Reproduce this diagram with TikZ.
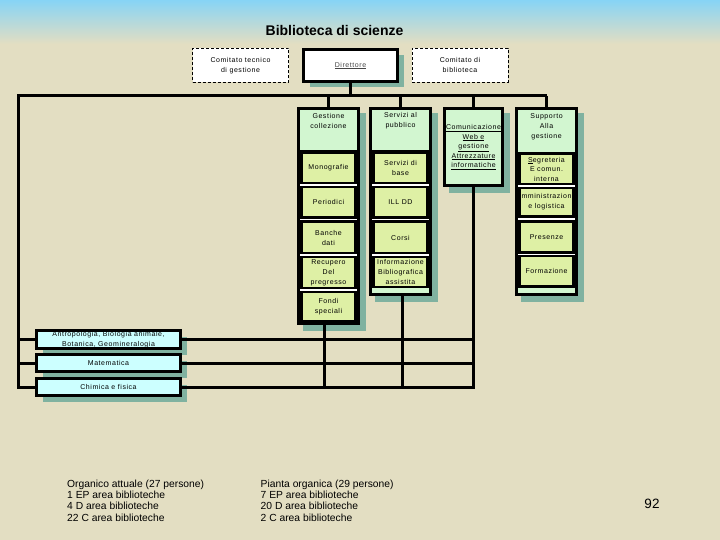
\documentclass[tikz,border=0pt]{standalone}
\usepackage{fontspec}
\setmainfont{Liberation Sans}
\newfontfamily\cellfont[LetterSpace=8]{Liberation Sans}
\usetikzlibrary{shadows}
\definecolor{beige}{RGB}{227,222,194}
\definecolor{sky}{RGB}{135,212,245}
\definecolor{shadowc}{RGB}{128,178,160}
\definecolor{mint}{RGB}{210,246,208}
\definecolor{lime}{RGB}{222,240,165}
\definecolor{aqua}{RGB}{204,255,255}
\definecolor{dirtext}{RGB}{70,70,70}
\newcommand\cellsz{\cellfont\fontsize{7}{10}\selectfont}
\newcommand\cellszb{\cellfont\fontsize{7}{9.5}\selectfont}
\begin{document}
\begin{tikzpicture}[x=1pt,y=-1pt,
  conn/.style={line width=3pt, draw=black},
  sepline/.style={draw=white, line width=1.5pt},
  shad/.style={drop shadow={shadow xshift=6pt, shadow yshift=-6pt, fill=shadowc, opacity=1}},
  blk/.style={fill=black, inner sep=0pt, outer sep=0pt, anchor=north west, shad},
  cell/.style={inner sep=0pt, outer sep=0pt, anchor=north west, align=center, font=\cellsz},
  txt/.style={inner sep=0pt, align=center, font=\cellsz},
  dashbox/.style={draw=black, dash pattern=on 3pt off 2pt, line width=0.8pt, fill=white, minimum width=96pt, minimum height=34pt, inner sep=0pt, align=center, font=\cellsz},
  area/.style={draw=black, line width=3pt, fill=aqua, minimum width=144pt, inner sep=0pt, outer sep=0pt, align=center, font=\cellsz, shad},
  foot/.style={inner sep=0pt, anchor=north west, align=left, font=\fontsize{10.3}{11.4}\selectfont}
]
\useasboundingbox (0,0) rectangle (720,540);
\fill[beige] (0,0) rectangle (720,540);
\fill[top color=sky, bottom color=beige] (0,0) rectangle (720,44);

% title
\node[inner sep=0pt, font=\bfseries\fontsize{14}{16}\selectfont] (title) at (334.5,30) {Biblioteca di scienze};

% top row
\node[dashbox] (ctg) at (240.5,65.5) {Comitato tecnico\\di gestione};
\node[dashbox] (cbib) at (460,65.5) {Comitato di\\biblioteca};
\node[draw=black, line width=3pt, fill=white, minimum width=94pt, minimum height=32pt, inner sep=0pt, outer sep=0pt, font=\cellsz, shad] (dir) at (350.5,65.5) {\textcolor{dirtext}{\underline{Direttore}}};

% Gestione collezione column
\node[blk, minimum width=63pt, minimum height=218pt] (gcol) at (297,107) {};
\node[cell, fill=mint, minimum width=57pt, minimum height=40pt] (gh) at (300,110) {};
\node[txt] (ght) at (328.5,121) {Gestione\\collezione};
\node[cell, fill=lime, minimum width=51pt, minimum height=28pt] (g1) at (303,154) {Monografie};
\draw[sepline] (300,185) -- (357,185);
\node[cell, fill=lime, minimum width=51pt, minimum height=28pt] (g2) at (303,188) {Periodici};
\draw[sepline] (300,219.5) -- (357,219.5);
\node[cell, fill=lime, minimum width=51pt, minimum height=29pt] (g3) at (303,223) {Banche\\dati};
\draw[sepline] (300,255) -- (357,255);
\node[cell, fill=lime, minimum width=51pt, minimum height=29pt] (g4) at (303,258) {Recupero\\Del\\pregresso};
\draw[sepline] (300,290) -- (357,290);
\node[cell, fill=lime, minimum width=51pt, minimum height=27pt] (g5) at (303,293) {Fondi\\speciali};

% Servizi al pubblico column
\node[blk, minimum width=63pt, minimum height=189pt] (scol) at (369,107) {};
\node[cell, fill=mint, minimum width=57pt, minimum height=40pt] (sh) at (372,110) {};
\node[txt] (sht) at (400.5,121) {Servizi al\\pubblico};
\node[cell, fill=lime, minimum width=51pt, minimum height=28pt] (s1) at (375,154) {Servizi di\\base};
\draw[sepline] (372,185) -- (429,185);
\node[cell, fill=lime, minimum width=51pt, minimum height=28pt] (s2) at (375,188) {ILL DD};
\draw[sepline] (372,219.5) -- (429,219.5);
\node[cell, fill=lime, minimum width=51pt, minimum height=29pt] (s3) at (375,223) {Corsi};
\draw[sepline] (372,255) -- (429,255);
\node[cell, fill=lime, minimum width=51pt, minimum height=28pt] (s4) at (375,257.5) {Informazione\\Bibliografica\\assistita};
\node[cell, fill=mint, minimum width=57pt, minimum height=5pt] (sstrip) at (372,288) {};

% Comunicazione column
\node[blk, minimum width=61pt, minimum height=80pt] (ccol) at (443,107) {};
\node[cell, fill=mint, minimum width=55pt, minimum height=74pt, font=\cellszb] (ch) at (446,110) {\underline{Comunicazione}\\\underline{Web e}\\\underline{gestione}\\\underline{Attrezzature}\\\underline{informatiche}};

% Supporto column
\node[blk, minimum width=63pt, minimum height=189pt] (pcol) at (515,107) {};
\node[cell, fill=mint, minimum width=57pt, minimum height=42pt] (ph) at (518,110) {};
\node[txt] (pht) at (546.5,127) {Supporto\\Alla\\gestione};
\node[cell, fill=lime, minimum width=51pt, minimum height=28pt, font=\cellszb] (p1) at (521,155) {\underline{S}egreteria\\E comun.\\interna};
\draw[sepline] (518,186) -- (575,186);
\node[cell, fill=lime, minimum width=51pt, minimum height=26pt] (p2) at (521,189) {mministrazion\\e logistica};
\draw[sepline] (518,219) -- (575,219);
\node[cell, fill=lime, minimum width=51pt, minimum height=28pt] (p3) at (521,223) {Presenze};
\draw[sepline] (518,254.5) -- (575,254.5);
\node[cell, fill=lime, minimum width=51pt, minimum height=28pt] (p4) at (521,257) {Formazione};
\node[cell, fill=mint, minimum width=57pt, minimum height=5pt] (pstrip) at (518,288) {};

% area boxes
\node[area, minimum height=18pt] (ant) at (108.5,339.5) {Antropologia, Biologia animale,\\Botanica, Geomineralogia};
\node[area, minimum height=17pt] (mat) at (108.5,363) {Matematica};
\node[area, minimum height=17pt] (chi) at (108.5,387) {Chimica e fisica};

% connectors
\coordinate (busL) at (18,96);
\coordinate (busR) at (546.5,96);
\coordinate (gstem) at ([xshift=-4.5pt]gcol.south);
\coordinate (sstem) at ([xshift=1.5pt]scol.south);
\draw[conn] (busR) -- (busL) -- (busL |- chi.west) -- (chi.west);
\draw[conn] (busL |- ant.west) -- (ant.west);
\draw[conn] (busL |- mat.west) -- (mat.west);
\draw[conn] (dir.south) -- (dir.south |- busL);
\draw[conn] (gcol.north |- busL) -- (gcol.north);
\draw[conn] (scol.north |- busL) -- (scol.north);
\draw[conn] (ccol.north |- busL) -- (ccol.north);
\draw[conn] (pcol.north |- busL) -- (pcol.north);
\draw[conn] (chi.east) -- (chi.east -| ccol.south) -- (ccol.south);
\draw[conn] (ant.east) -- (ant.east -| ccol.south);
\draw[conn] (mat.east) -- (mat.east -| ccol.south);
\draw[conn] (gstem) -- (gstem |- chi.east);
\draw[conn] (sstem) -- (sstem |- chi.east);

% footer
\node[foot] (org) at (67,479.5) {Organico attuale (27 persone)\\1 EP area biblioteche\\4 D area biblioteche\\22 C area biblioteche};
\node[foot] (pia) at (260.5,479.5) {Pianta organica (29 persone)\\7 EP area biblioteche\\20 D area biblioteche\\2 C area biblioteche};
\node[inner sep=0pt, font=\fontsize{13.5}{16}\selectfont] (pg) at (652,503.5) {92};
\end{tikzpicture}
\end{document}
